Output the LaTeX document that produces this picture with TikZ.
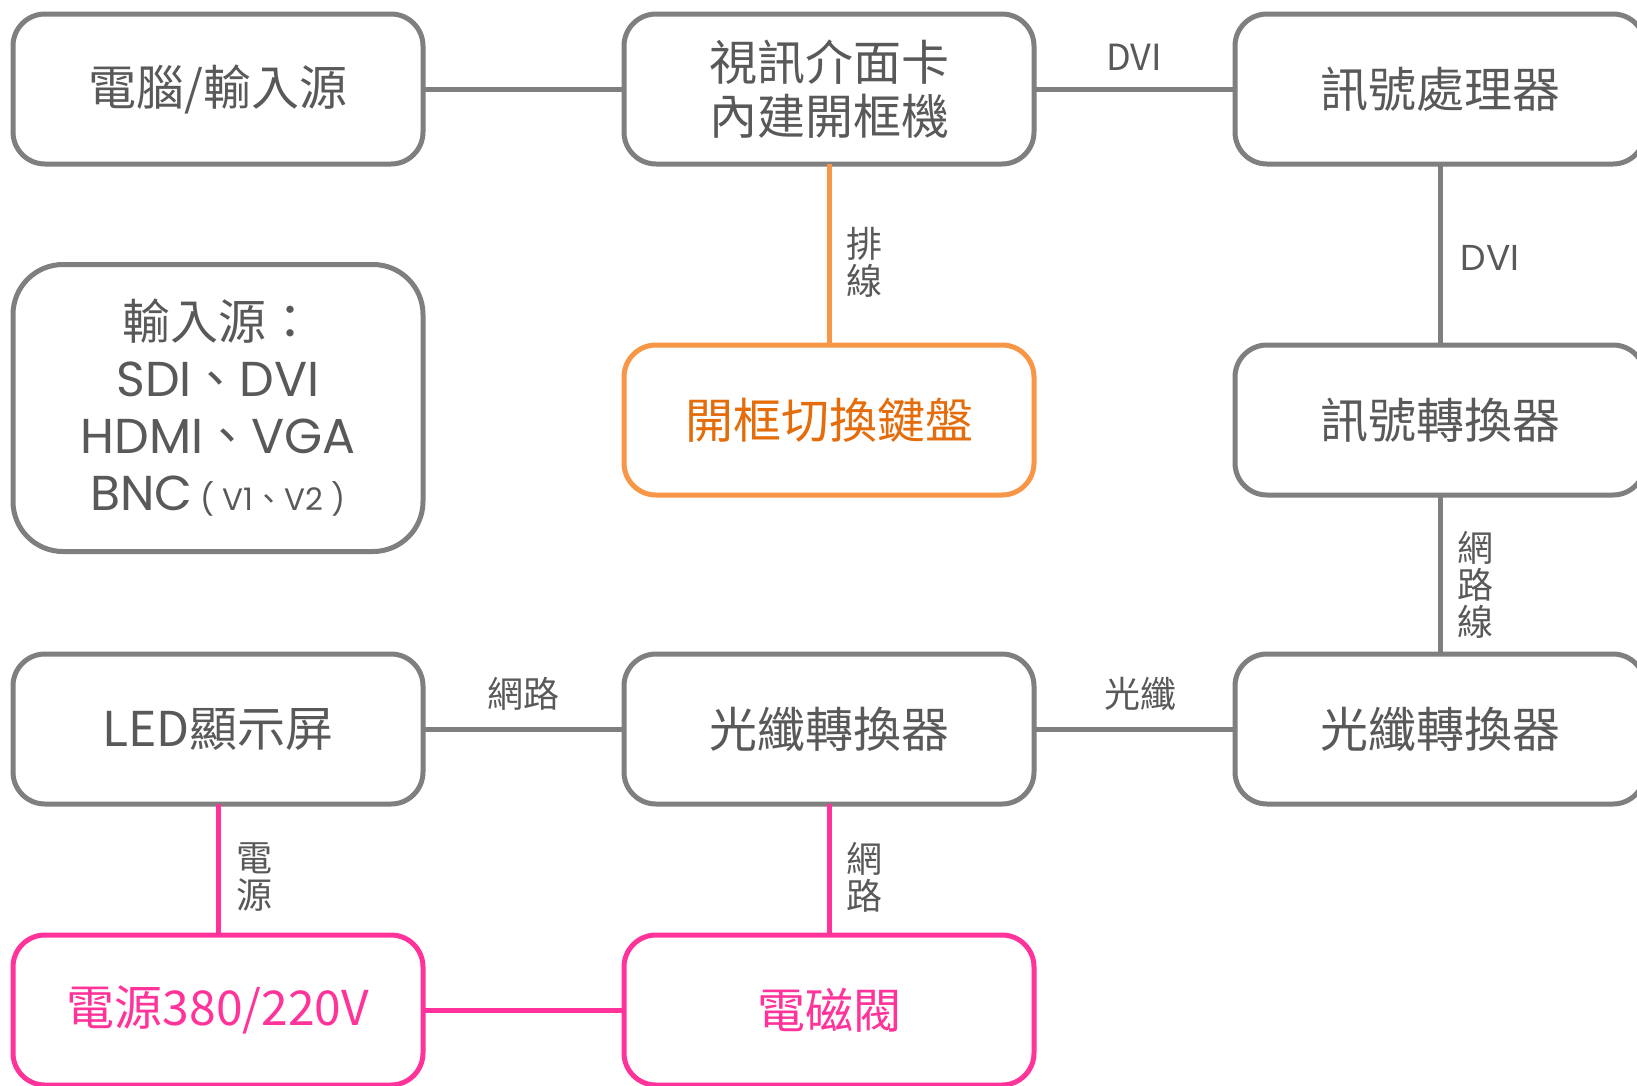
\documentclass[tikz,border=0pt]{standalone}
\usepackage{fontspec}
\setmainfont{Noto Sans CJK TC}
\newfontfamily\lat{Poppins}
\definecolor{boxgray}{HTML}{7F7F7F}
\definecolor{txtgray}{HTML}{595959}
\definecolor{orgline}{HTML}{F79646}
\definecolor{orgtxt}{HTML}{E46C0A}
\definecolor{pinkc}{HTML}{FF3399}
\begin{document}
\begin{tikzpicture}[x=1pt,y=-1pt,
  blk/.style={draw=boxgray, line width=5pt, rounded corners=32pt, minimum width=410pt, minimum height=150pt, text=txtgray, font=\fontsize{48}{54}\selectfont, align=center, inner sep=0pt, outer sep=0pt},
  orgblk/.style={blk, draw=orgline, text=orgtxt},
  pinkblk/.style={blk, draw=pinkc, text=pinkc},
  conn/.style={draw=boxgray, line width=5pt},
  orgconn/.style={draw=orgline, line width=5pt},
  pinkconn/.style={draw=pinkc, line width=5pt},
  lbl/.style={text=txtgray, font=\fontsize{36}{37}\selectfont, align=center, inner sep=0pt}
]
\useasboundingbox (0,0) rectangle (1637,1085);
\fill[white] (0,0) rectangle (1637,1085);
\clip (0,0) rectangle (1637,1085);

% row 1
\node[blk] (A) at (218,89) {電腦/輸入源};
\node[blk] (B) at (829,89) {視訊介面卡\\內建開框機};
\node[blk] (C) at (1440,89) {訊號處理器};
% row 2
\node[blk, minimum height=287pt, rounded corners=50pt, font=\fontsize{48}{57}\selectfont] (D) at (218,408)
  {輸入源：\\
   {\lat\fontsize{49}{57}\selectfont SDI}、{\lat\fontsize{49}{57}\selectfont DVI}\\
   {\lat\fontsize{49}{57}\selectfont HDMI}、{\lat\fontsize{49}{57}\selectfont VGA}\\
   {\lat\fontsize{49}{57}\selectfont BNC}{\lat\fontsize{31}{57}\selectfont\ ( V1}{\fontsize{31}{57}\selectfont 、}{\lat\fontsize{31}{57}\selectfont V2 )}};
\node[orgblk] (E) at (829,420) {開框切換鍵盤};
\node[blk] (F) at (1440,420) {訊號轉換器};
% row 3
\node[blk] (G) at (218,729) {LED顯示屏};
\node[blk] (H) at (829,729) {光纖轉換器};
\node[blk] (I) at (1440,729) {光纖轉換器};
% row 4
\node[pinkblk] (J) at (218,1010) {電源380/220V};
\node[pinkblk] (K) at (829,1010) {電磁閥};

% connectors
\draw[conn] (A.east) -- (B.west);
\draw[conn] (B.east) -- (C.west);
\draw[orgconn] (B.south) -- (E.north);
\draw[conn] (C.south) -- (F.north);
\draw[conn] (F.south) -- (I.north);
\draw[conn] (I.west) -- (H.east);
\draw[conn] (H.west) -- (G.east);
\draw[pinkconn] (G.south) -- (J.north);
\draw[pinkconn] (H.south) -- (K.north);
\draw[pinkconn] (J.east) -- (K.west);

% labels
\node[lbl] (l1) at (1134,57) {DVI};
\node[lbl] (l2) at (864,262) {排\\線};
\node[lbl, font=\lat\fontsize{36}{37}\selectfont] (l3) at (1490,258) {DVI};
\node[lbl] (l4) at (1475,585) {網\\路\\線};
\node[lbl] (l5) at (523,694) {網路};
\node[lbl] (l6) at (1140,694) {光纖};
\node[lbl] (l7) at (254,877) {電\\源};
\node[lbl] (l8) at (864,877) {網\\路};
\end{tikzpicture}
\end{document}
